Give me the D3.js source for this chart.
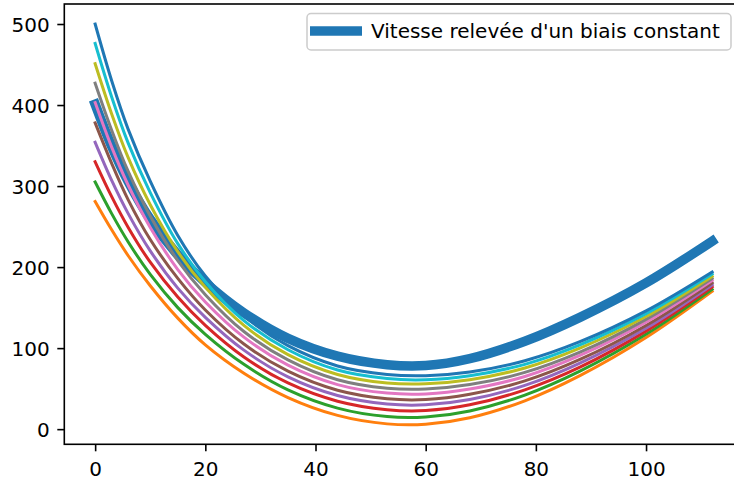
<!DOCTYPE html>
<html>
<head>
<meta charset="utf-8">
<script src="https://cdn.jsdelivr.net/npm/d3@7"></script>
<style>
body { margin: 0; background: #fff; }
text { font-family: "DejaVu Sans", sans-serif; }
</style>
</head>
<body>
<script>
var width = 734;
var height = 482;

// sample positions along x
var xs = [0, 3, 6, 10, 15, 20, 27, 35, 44, 53, 60, 68, 78, 88, 100, 112];

// thick curve (the one in the legend)
var biasSpeed = [401, 349, 305.5, 259, 215, 181, 143.5, 112, 90, 79.5, 78.5, 87, 108.5, 138, 180.5, 232];

// thin curves, bottom to top
var orange = [281, 246, 214, 177, 137, 104, 69, 39, 17, 6.5, 6, 14, 35, 66, 113, 170];
var green  = [305, 266, 231, 191, 150, 117, 80, 48.5, 26, 15.5, 15, 22.5, 42, 71.5, 117, 172.5];
var red    = [330, 287, 249, 206, 163, 128, 89, 57, 34.5, 24, 23, 30, 48.5, 76.5, 121, 175.5];
var purple = [354, 307, 266, 220, 174, 138, 97.5, 64.5, 41.5, 31, 30, 36.5, 54, 81.5, 124.5, 178];
var brown  = [378, 328, 283, 234, 186, 147, 105, 71.5, 48, 37.5, 36.5, 43, 59.5, 86, 128, 180.5];
var pink   = [403, 348, 301, 249, 197, 157, 113.5, 79, 55, 44.5, 43.5, 49.5, 65, 91, 132, 183.5];
var gray   = [427, 369, 318, 263, 208, 166, 120.5, 85.5, 61, 50.5, 49.5, 55, 70, 95, 135.5, 186];
var olive  = [451, 389, 335, 277, 219, 175, 128, 92, 67.5, 57, 56, 61, 75.5, 100, 139, 188.5];
var cyan   = [476, 410, 353, 292, 229, 182, 134, 98, 73, 62.5, 61, 66, 80, 104, 142.5, 191.5];
var blue   = [500, 430, 370, 306, 239, 189, 140, 103, 78, 67.5, 66, 70.5, 84.5, 108, 146, 194];

var thinCurves = [orange, green, red, purple, brown, pink, gray, olive, cyan, blue];
var thinColors = ["#ff7f0e", "#2ca02c", "#d62728", "#9467bd", "#8c564b",
                  "#e377c2", "#7f7f7f", "#bcbd22", "#17becf", "#1f77b4"];

var xTicks = [0, 20, 40, 60, 80, 100];
var yTicks = [0, 100, 200, 300, 400, 500];
var legendLabel = "Vitesse relevée d'un biais constant";

// axes box (right edge falls outside the picture)
var axLeft = 64.3, axTop = 4, axRight = 743, axBottom = 444.3;

// matplotlib style 5% margins
var allY = [].concat(biasSpeed).concat(...thinCurves);
var xMin = d3.min(xs), xMax = d3.max(xs);
var yMin = d3.min(allY), yMax = d3.max(allY);
var xPad = (xMax - xMin) * 0.05, yPad = (yMax - yMin) * 0.05;

var xScale = d3.scaleLinear().domain([xMin - xPad, xMax + xPad]).range([axLeft, axRight]);
var yScale = d3.scaleLinear().domain([yMin - yPad, yMax + yPad]).range([axBottom, axTop]);

var svg = d3.select("body").append("svg")
    .attr("width", width)
    .attr("height", height);

svg.append("clipPath").attr("id", "plot")
  .append("rect")
    .attr("x", axLeft).attr("y", axTop)
    .attr("width", axRight - axLeft).attr("height", axBottom - axTop);

var line = d3.line()
    .x(function(d, i){ return xScale(xs[i]); })
    .y(function(d){ return yScale(d); })
    .curve(d3.curveCatmullRom.alpha(0.5));

var plot = svg.append("g").attr("clip-path", "url(#plot)");

plot.append("path")
    .attr("d", line(biasSpeed))
    .attr("fill", "none")
    .attr("stroke", "#1f77b4")
    .attr("stroke-width", 9.6)
    .attr("stroke-linecap", "square")
    .attr("stroke-linejoin", "round");

plot.selectAll(".thin")
    .data(thinCurves)
    .enter()
    .append("path")
    .attr("class", "thin")
    .attr("d", function(d){ return line(d); })
    .attr("fill", "none")
    .attr("stroke", function(d, i){ return thinColors[i]; })
    .attr("stroke-width", 3)
    .attr("stroke-linecap", "square")
    .attr("stroke-linejoin", "round");

// Axes
var xAxis = d3.axisBottom(xScale).tickValues(xTicks).tickSize(7).tickSizeOuter(0).tickPadding(10.4);
var yAxis = d3.axisLeft(yScale).tickValues(yTicks).tickSize(7).tickSizeOuter(0).tickPadding(7.6);

var gx = svg.append("g")
    .attr("transform", "translate(0," + axBottom + ")")
    .call(xAxis);
var gy = svg.append("g")
    .attr("transform", "translate(" + axLeft + ",0)")
    .call(yAxis);

[gx, gy].forEach(function(g){
  g.select(".domain").remove();
  g.selectAll(".tick line").attr("stroke", "#000").attr("stroke-width", 1.6);
  g.selectAll(".tick text")
    .attr("fill", "#000")
    .style("font-family", "'DejaVu Sans', sans-serif")
    .style("font-size", "20px");
});
gy.selectAll(".tick text").attr("dy", "0.38em");

// spines
svg.append("rect")
    .attr("x", axLeft).attr("y", axTop)
    .attr("width", axRight - axLeft).attr("height", axBottom - axTop)
    .attr("fill", "none")
    .attr("stroke", "#000")
    .attr("stroke-width", 1.6);

// legend
var legend = svg.append("g");
legend.append("rect")
    .attr("x", 307).attr("y", 13.5)
    .attr("width", 424).attr("height", 36.5)
    .attr("rx", 4)
    .attr("fill", "#fff").attr("fill-opacity", 0.8)
    .attr("stroke", "#cccccc").attr("stroke-width", 1.5);
legend.append("line")
    .attr("x1", 314.8).attr("x2", 357.2)
    .attr("y1", 31).attr("y2", 31)
    .attr("stroke", "#1f77b4")
    .attr("stroke-width", 9.6)
    .attr("stroke-linecap", "square");
legend.append("text")
    .attr("x", 371).attr("y", 38.3)
    .style("font-size", "20px")
    .attr("fill", "#000")
    .text(legendLabel);
</script>
</body>
</html>
